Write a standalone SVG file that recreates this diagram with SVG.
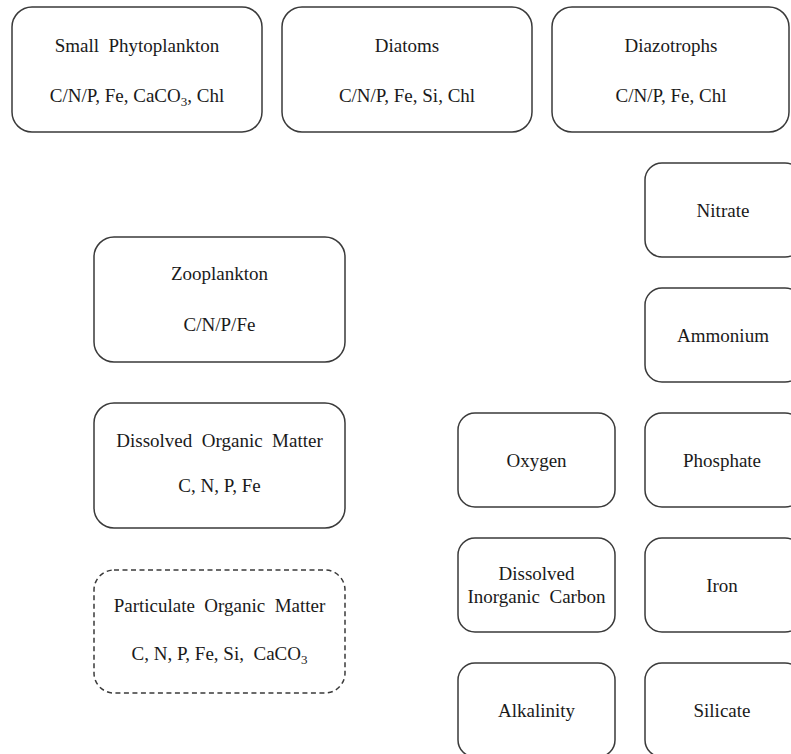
<svg xmlns="http://www.w3.org/2000/svg" width="791" height="754" viewBox="0 0 791 754">
<style>
.box{fill:#fff;stroke:#3a3a3a;stroke-width:1.5}
.dash{stroke-dasharray:5 3.5}
text{font-family:"Liberation Serif","Times New Roman",serif;font-size:19px;fill:#1a1a1a;text-anchor:middle}
.sub{font-size:13px}
</style>
<rect width="791" height="754" fill="#fff"/>
<g id="small-phytoplankton">
<rect class="box" x="12" y="7" width="250" height="125" rx="20"/>
<text x="137" y="52" xml:space="preserve">Small  Phytoplankton</text>
<text x="137" y="102">C/N/P, Fe, CaCO<tspan class="sub" dy="4">3</tspan><tspan dy="-4">, Chl</tspan></text>
</g>
<g id="diatoms">
<rect class="box" x="282" y="7" width="250" height="125" rx="20"/>
<text x="407" y="52">Diatoms</text>
<text x="407" y="102">C/N/P, Fe, Si, Chl</text>
</g>
<g id="diazotrophs">
<rect class="box" x="552" y="7" width="237" height="125" rx="20"/>
<text x="671" y="52">Diazotrophs</text>
<text x="671" y="102">C/N/P, Fe, Chl</text>
</g>
<g id="nitrate">
<rect class="box" x="645" y="163" width="157" height="94" rx="17"/>
<text x="723" y="217">Nitrate</text>
</g>
<g id="ammonium">
<rect class="box" x="645" y="288" width="157" height="94" rx="17"/>
<text x="723" y="342">Ammonium</text>
</g>
<g id="phosphate">
<rect class="box" x="645" y="413" width="157" height="94" rx="17"/>
<text x="722" y="467">Phosphate</text>
</g>
<g id="iron">
<rect class="box" x="645" y="538" width="157" height="94" rx="17"/>
<text x="722" y="592">Iron</text>
</g>
<g id="silicate">
<rect class="box" x="645" y="663" width="157" height="94" rx="17"/>
<text x="722" y="717">Silicate</text>
</g>
<g id="oxygen">
<rect class="box" x="458" y="413" width="157" height="94" rx="17"/>
<text x="536.5" y="467">Oxygen</text>
</g>
<g id="dic">
<rect class="box" x="458" y="538" width="157" height="94" rx="17"/>
<text x="536.5" y="580">Dissolved</text>
<text x="536.5" y="603" xml:space="preserve">Inorganic  Carbon</text>
</g>
<g id="alkalinity">
<rect class="box" x="458" y="663" width="157" height="94" rx="17"/>
<text x="536.5" y="717">Alkalinity</text>
</g>
<g id="zooplankton">
<rect class="box" x="94" y="237" width="251" height="125" rx="20"/>
<text x="219.5" y="280">Zooplankton</text>
<text x="219.5" y="331">C/N/P/Fe</text>
</g>
<g id="dom">
<rect class="box" x="94" y="403" width="251" height="125" rx="20"/>
<text x="219.5" y="447" xml:space="preserve">Dissolved  Organic  Matter</text>
<text x="219.5" y="492">C, N, P, Fe</text>
</g>
<g id="pom">
<rect class="box dash" x="94" y="570" width="251" height="123" rx="20"/>
<text x="219.5" y="612" xml:space="preserve">Particulate  Organic  Matter</text>
<text x="219.5" y="660" xml:space="preserve">C, N, P, Fe, Si,  CaCO<tspan class="sub" dy="4">3</tspan></text>
</g>
<g id="connectors"></g>
</svg>
